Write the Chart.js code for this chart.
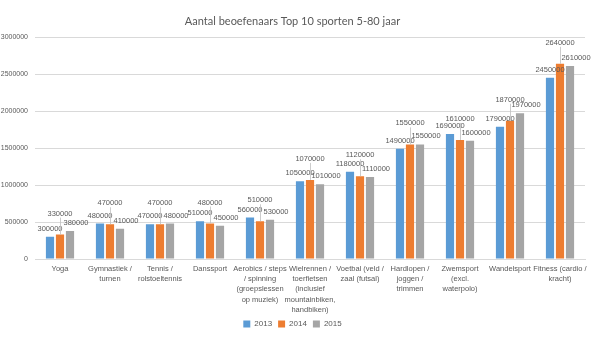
<!DOCTYPE html>
<html>
<head>
<meta charset="utf-8">
<script src="https://cdn.jsdelivr.net/npm/chart.js@4"></script>
<style>
  html, body { margin: 0; padding: 0; background: #ffffff; }
  #wrap { width: 600px; height: 340px; position: relative; }
</style>
</head>
<body>
<div id="wrap"><canvas id="c" width="600" height="340"></canvas></div>
<script>
const categories = [
  "Yoga",
  ["Gymnastiek /", "turnen"],
  ["Tennis /", "rolstoeltennis"],
  "Danssport",
  ["Aerobics / steps", "/ spinning", "(groepslessen", "op muziek)"],
  ["Wielrennen /", "toerfietsen", "(inclusief", "mountainbiken,", "handbiken)"],
  ["Voetbal (veld /", "zaal (futsal)"],
  ["Hardlopen /", "joggen /", "trimmen"],
  ["Zwemsport", "(excl.", "waterpolo)"],
  "Wandelsport",
  ["Fitness (cardio /", "kracht)"]
];
const seriesNames = ["2013", "2014", "2015"];
const values2013 = [300000, 480000, 470000, 510000, 560000, 1050000, 1180000, 1490000, 1690000, 1790000, 2450000];
const values2014 = [330000, 470000, 470000, 480000, 510000, 1070000, 1120000, 1550000, 1610000, 1870000, 2640000];
const values2015 = [380000, 410000, 480000, 450000, 530000, 1010000, 1110000, 1550000, 1600000, 1970000, 2610000];
const yTicks = [0, 500000, 1000000, 1500000, 2000000, 2500000, 3000000];
const titleText = "Aantal beoefenaars Top 10 sporten 5-80 jaar";

const colors = ["#5B9BD5", "#ED7D31", "#A5A5A5"];
const textColor = "#595959";
const labelFont = "7.5px 'Liberation Sans', Arial, sans-serif";

// label placement style per series: [dx, dy above bar top, leader line]
const labelStyle = [
  { dx: 0, dy: 8, leader: false },
  { dx: 0, dy: 21, leader: true },
  { dx: 6, dy: 8, leader: false }
];

const dataLabelPlugin = {
  id: 'dataLabels',
  afterDatasetsDraw(chart) {
    const ctx = chart.ctx;
    ctx.save();
    ctx.font = labelFont;
    ctx.fillStyle = textColor;
    ctx.textAlign = 'center';
    ctx.textBaseline = 'middle';
    chart.data.datasets.forEach((ds, i) => {
      const meta = chart.getDatasetMeta(i);
      const st = labelStyle[i];
      meta.data.forEach((bar, j) => {
        const v = ds.data[j];
        const x = bar.x + st.dx;
        const y = bar.y - st.dy;
        if (st.leader) {
          ctx.strokeStyle = '#BFBFBF';
          ctx.lineWidth = 0.8;
          ctx.beginPath();
          ctx.moveTo(Math.round(bar.x) + 0.5, y + 4);
          ctx.lineTo(Math.round(bar.x) + 0.5, bar.y);
          ctx.stroke();
        }
        ctx.fillText(String(v), x, y);
      });
    });
    ctx.restore();
  }
};

const allVals = [values2013, values2014, values2015];
new Chart(document.getElementById('c'), {
  type: 'bar',
  data: {
    labels: categories,
    datasets: seriesNames.map((n, i) => ({
      label: n,
      data: allVals[i],
      backgroundColor: colors[i],
      borderWidth: 0,
      categoryPercentage: 0.6,
      barPercentage: 0.82
    }))
  },
  options: {
    responsive: false,
    animation: false,
    devicePixelRatio: 1,
    layout: { padding: { left: 0, right: 15, top: 0, bottom: 2 } },
    plugins: {
      title: {
        display: true,
        text: titleText,
        color: textColor,
        font: { family: "Lato, 'Open Sans', sans-serif", size: 11, weight: 'normal' },
        padding: { top: 15, bottom: 9 }
      },
      legend: {
        position: 'bottom',
        labels: {
          boxWidth: 7,
          boxHeight: 7,
          padding: 6,
          color: textColor,
          font: { family: "'Liberation Sans', Arial, sans-serif", size: 8 }
        }
      },
      tooltip: { enabled: false }
    },
    scales: {
      x: {
        grid: { display: false, drawTicks: false },
        border: { display: true, color: '#D9D9D9' },
        ticks: {
          color: textColor,
          font: { family: "'Liberation Sans', Arial, sans-serif", size: 7.5, lineHeight: 1.35 },
          maxRotation: 0,
          minRotation: 0,
          autoSkip: false,
          padding: 5
        },
        afterFit(scale) { scale.height = 55; }
      },
      y: {
        min: 0,
        max: 3000000,
        afterBuildTicks(scale) { scale.ticks = yTicks.map(v => ({ value: v })); },
        grid: { color: '#D9D9D9', drawTicks: false },
        border: { display: false },
        ticks: {
          color: textColor,
          font: { family: "'Liberation Sans', Arial, sans-serif", size: 7 },
          padding: 7,
          callback: v => String(v)
        },
        afterFit(scale) { scale.width = 35; }
      }
    }
  },
  plugins: [dataLabelPlugin]
});
</script>
</body>
</html>
